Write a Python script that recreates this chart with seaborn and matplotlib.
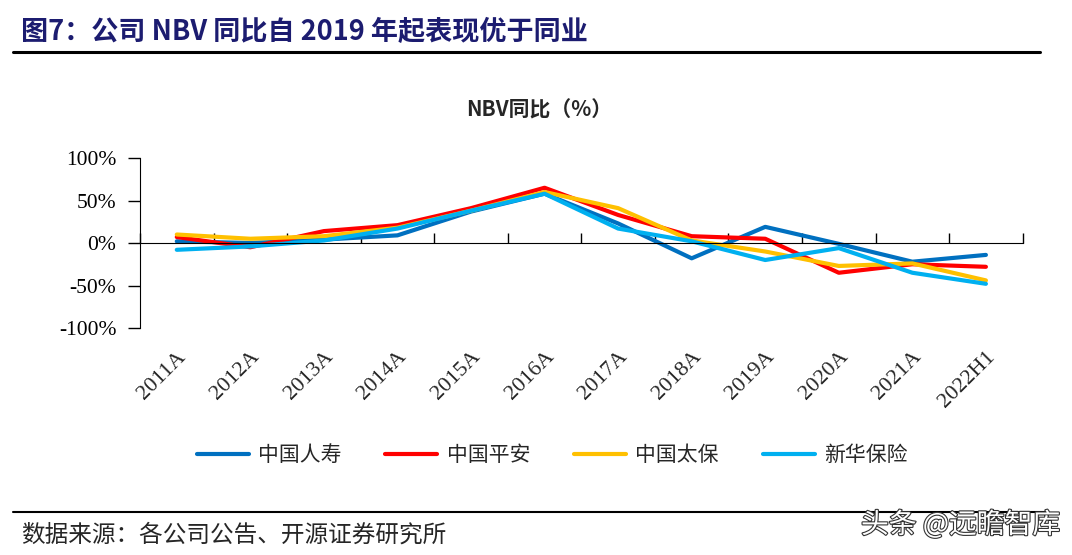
import matplotlib
matplotlib.use("Agg")
import matplotlib.pyplot as plt
import matplotlib.patheffects as pe
import seaborn as sns
import pandas as pd

years = ["2011A", "2012A", "2013A", "2014A", "2015A", "2016A",
         "2017A", "2018A", "2019A", "2020A", "2021A", "2022H1"]
companies = ["中国人寿", "中国平安", "中国太保", "新华保险"]
life = [2, 0, 4, 9, 37, 58, 23, -18, 19, -1, -22, -14]
pingan = [7, -5, 14, 21, 41, 65, 33, 8, 5, -35, -25, -28]
cpic = [10, 5, 8, 18, 38, 60, 41, 3, -10, -27, -24, -44]
nci = [-8, -4, 3, 17, 38, 58, 17, 2, -20, -6, -35, -48]
yticks = [-100, -50, 0, 50, 100]
colors = ["#0070C0", "#FF0000", "#FFC000", "#00B0F0"]

df = pd.DataFrame({"year": years * 4,
                   "company": sum([[c] * len(years) for c in companies], []),
                   "value": life + pingan + cpic + nci})

sns.set_style("white")
plt.rcParams["font.family"] = ["Liberation Serif", "Noto Sans CJK SC", "DejaVu Sans"]

fig = plt.figure(figsize=(10.72, 5.55), dpi=100)
ax = fig.add_axes([0.1306, 0.409, 0.8234, 0.3063])
sns.lineplot(data=df, x="year", y="value", hue="company", hue_order=companies,
             palette=colors, linewidth=3, sort=False, ax=ax, legend=True)

ax.set_xlim(-0.5, len(years) - 0.5)
ax.set_ylim(-100, 100)
ax.set_yticks(yticks)
ax.set_yticklabels([f"{v}%" for v in yticks], fontsize=15.5)
ax.set_xlabel("")
ax.set_ylabel("")
for s in ["top", "right"]:
    ax.spines[s].set_visible(False)
ax.spines["left"].set_color("black")
ax.spines["bottom"].set_color("black")
ax.spines["bottom"].set_position(("data", 0))
ax.tick_params(axis="y", direction="out", length=9, width=1, pad=8, left=True, colors="black")
ax.set_xticks([i - 0.5 for i in range(len(years) + 1)])
ax.set_xticklabels([])
ax.tick_params(axis="x", direction="in", length=7, width=1, bottom=True, colors="black")

sec = ax.secondary_xaxis(0)
sec.set_xticks(range(len(years)))
sec.set_xticklabels(years, rotation=45, ha="right", va="top",
                    rotation_mode="anchor", fontsize=16)
sec.tick_params(length=0, pad=14)
sec.spines["bottom"].set_visible(False)

handles, labels = ax.get_legend_handles_labels()
ax.get_legend().remove()
fig.legend(handles, labels, loc="center", bbox_to_anchor=(0.515, 1 - 455 / 555),
           ncol=4, frameon=False, handlelength=2.5, handletextpad=0.45,
           columnspacing=2.1, prop={"family": "Noto Sans CJK SC", "size": 15})

fig.text(539 / 1072, 1 - 110 / 555, "NBV同比（%）", fontsize=15, fontweight="bold",
         family=["Noto Sans CJK SC"], ha="center", va="center")

fig.text(0.02, 1 - 32 / 555, "图7：公司 NBV 同比自 2019 年起表现优于同业",
         fontsize=19.5, fontweight="bold", color="#1C1C70",
         family=["Noto Sans CJK SC"], va="center")
fig.add_artist(plt.Line2D([0.012, 0.97], [1 - 52 / 555] * 2, color="black", lw=2.2))
fig.add_artist(plt.Line2D([0.012, 0.975], [1 - 512 / 555] * 2, color="black", lw=1.5))
fig.text(0.02, 1 - 535 / 555, "数据来源：各公司公告、开源证券研究所",
         fontsize=17, family=["Noto Sans CJK SC"], va="center")
fig.text(1060 / 1072, 1 - 525 / 555, "头条 @远瞻智库", fontsize=20, color="white",
         family=["Noto Sans CJK SC"], va="center", ha="right",
         path_effects=[pe.withStroke(linewidth=1.6, foreground="#333333")])

fig.savefig("out.png", dpi=100)
